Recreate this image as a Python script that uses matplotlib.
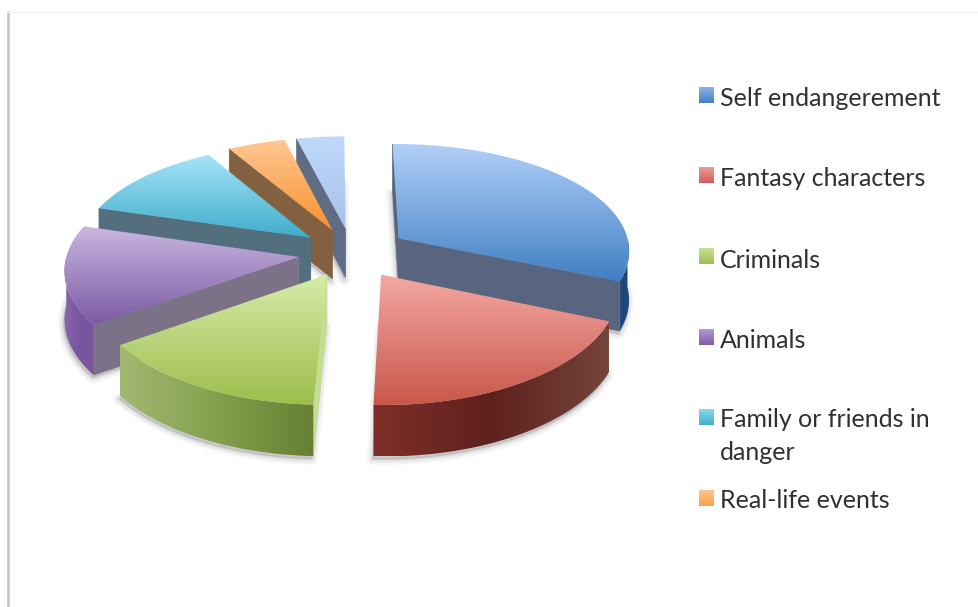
import numpy as np
import matplotlib
matplotlib.use("Agg")
import matplotlib.pyplot as plt
from matplotlib.patches import Polygon

# share of each slice, clockwise from the top of the pie
slices = ["Self endangerement", "Fantasy characters", "Criminals", "Animals",
          "Family or friends in\ndanger", "Real-life events", "Other"]
values = [31.5, 19.3, 14.6, 14.4, 12.0, 4.5, 3.7]

top_light = ["#b2d0f8", "#f3a8a3", "#d6eba8", "#c9b6e0", "#a6e4f8", "#ffc794", "#c0d8fb"]
top_dark = ["#4180c4", "#c9574a", "#9dbd4c", "#7a5aa3", "#3fadcb", "#f6932f", "#a4c2ea"]
radial_wall = ["#59657f", "#6e3530", "#c4dc94", "#7b7288", "#536f7d", "#83603f", "#5f6c83"]
arc_left = ["#1f4a7a", "#7e2e28", "#a2b872", "#8a65b0", "#2f7f96", "#b06c2a", "#6f8db5"]
arc_mid = ["#1d4776", "#5f211e", "#84a04c", "#7a559f", "#2f7f96", "#b06c2a", "#6f8db5"]
arc_right = ["#234f80", "#75443d", "#667f33", "#7a559f", "#2f7f96", "#b06c2a", "#6f8db5"]
legend_light = ["#8cb4e6", "#eb9d98", "#c8e08f", "#b39bd0", "#8ad8ec", "#ffc48c"]
legend_dark = ["#3f7fc6", "#d25c55", "#9cc05a", "#7d5ca8", "#3fb0d0", "#f9a04d"]
explode = [0.245, 0.23, 0.22, 0.23, 0.23, 0.23, 0.23]

# pie geometry on the canvas
W, H = 979, 607
CX, CY = 352, 253
RX, RY = 232, 109
PERSP_X = 0.10
PERSP_Y = 0.12
DEPTH = 49
START = -0.5


def project(x, y, z=0.0):
    x = np.asarray(x, dtype=float)
    y = np.asarray(y, dtype=float)
    sx = CX + RX * x / (1.0 + PERSP_X * y)
    sy = CY - RY * y / (1.0 + PERSP_Y * y) + z * DEPTH / (1.0 + 0.04 * y)
    return np.column_stack([np.atleast_1d(sx), np.atleast_1d(sy)])


def gradient(ax, poly, c1, c2, zorder, horizontal=False, stops=None):
    cols = stops if stops is not None else [c1, c2]
    rgb = np.array([matplotlib.colors.to_rgb(c) for c in cols])
    t = np.linspace(0, 1, 128)
    ramp = np.column_stack([np.interp(t, np.linspace(0, 1, len(cols)), rgb[:, i]) for i in range(3)])
    img = ramp[None, :, :] if horizontal else ramp[:, None, :]
    x0, y0 = poly.min(axis=0)
    x1, y1 = poly.max(axis=0)
    im = ax.imshow(img, extent=[x0, x1, y1, y0], aspect="auto", interpolation="bilinear", zorder=zorder)
    clip = Polygon(poly, closed=True, transform=ax.transData, fc="none", ec="none")
    im.set_clip_path(clip)


def draw_slice(ax, i, t0, t1, z):
    mid = np.radians((t0 + t1) / 2)
    ox, oy = explode[i] * np.sin(mid), explode[i] * np.cos(mid)
    th = np.radians(np.linspace(t0, t1, 90))
    ax_x, ax_y = ox + np.sin(th), oy + np.cos(th)

    top = np.vstack([project(ox, oy), project(ax_x, ax_y)])
    bottom = np.vstack([project(ox, oy, 1), project(ax_x, ax_y, 1)])

    # soft shadow under the lower outline
    for lw, alpha in ((8, 0.05), (5, 0.07), (2, 0.10)):
        ax.add_patch(Polygon(bottom + [-1, 3], closed=True, fc="#555555", ec="#555555",
                             lw=lw, alpha=alpha, zorder=z, joinstyle="round"))

    # radial walls facing the viewer
    if np.sin(np.radians(t0)) < 0:
        quad = np.vstack([top[0], top[1], bottom[1], bottom[0]])
        ax.add_patch(Polygon(quad, closed=True, fc=radial_wall[i], ec=radial_wall[i], lw=0.5, zorder=z + 1))
    if np.sin(np.radians(t1)) > 0:
        quad = np.vstack([top[0], top[-1], bottom[-1], bottom[0]])
        ax.add_patch(Polygon(quad, closed=True, fc=radial_wall[i], ec=radial_wall[i], lw=0.5, zorder=z + 1))

    # outer rim, only the part on the near side
    a0, a1 = max(t0, 90), min(t1, 270)
    if a1 > a0:
        arc = np.radians(np.linspace(a0, a1, 60))
        ex, ey = ox + np.sin(arc), oy + np.cos(arc)
        strip = np.vstack([project(ex, ey), project(ex, ey, 1)[::-1]])
        gradient(ax, strip, None, None, z + 2, horizontal=True,
                 stops=[arc_left[i], arc_mid[i], arc_right[i]])

    gradient(ax, top, top_light[i], top_dark[i], z + 3)


def main():
    fig = plt.figure(figsize=(W / 100, H / 100), dpi=100, facecolor="white")
    ax = fig.add_axes([0, 0, 1, 1])

    # slide frame lines
    ax.plot([8, 8], [12, 607], color="#c4c4c4", lw=1.8, zorder=1)
    ax.plot([8, 979], [11.5, 11.5], color="#f0f0f0", lw=1.0, zorder=1)

    angles = np.array(values) / sum(values) * 360.0
    edges = START + np.concatenate([[0], np.cumsum(angles)])
    spans = list(zip(edges[:-1], edges[1:]))

    # back slices first so nearer ones cover them
    order = sorted(range(len(values)), key=lambda k: -np.cos(np.radians(sum(spans[k]) / 2)))
    for n, i in enumerate(order):
        draw_slice(ax, i, spans[i][0], spans[i][1], 10 + n * 5)

    # legend, the last slice has no entry
    text_y = [98, 179, 260, 341, 436, 501]
    box_y = [95, 175, 256, 337, 417, 498]
    for i, name in enumerate(slices[:6]):
        box = np.array([[699, box_y[i] - 8], [714, box_y[i] - 8], [714, box_y[i] + 8], [699, box_y[i] + 8]], dtype=float)
        gradient(ax, box, legend_light[i], legend_dark[i], 60)
        ax.text(720, text_y[i], name, fontsize=18, family="Lato", color="#303030",
                va="center", ha="left", linespacing=1.48, zorder=61)

    ax.set_xlim(0, W)
    ax.set_ylim(H, 0)
    ax.axis("off")
    fig.savefig("out.png", dpi=100, facecolor="white")


if __name__ == "__main__":
    main()
